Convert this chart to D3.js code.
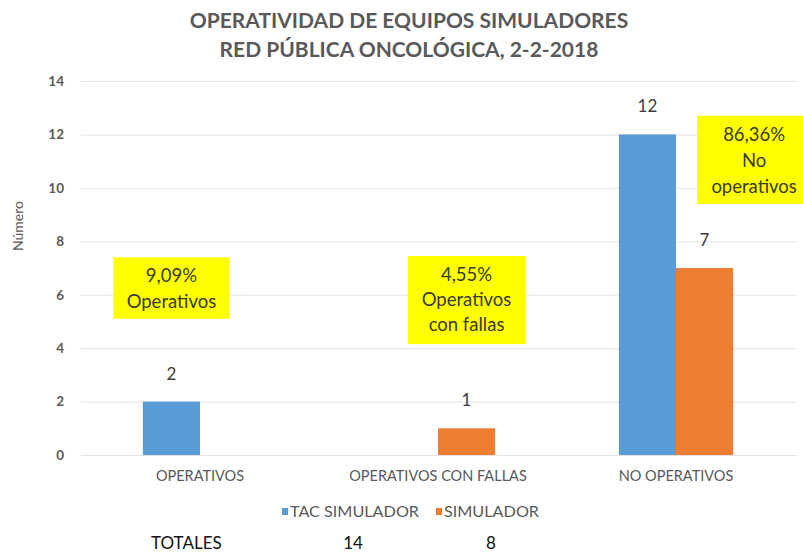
<!DOCTYPE html>
<html>
<head>
<meta charset="utf-8">
<script src="https://cdn.jsdelivr.net/npm/d3@7"></script>
<style>
  body { margin: 0; background: #fff; }
  svg { font-family: Lato, "Open Sans", sans-serif; }
</style>
</head>
<body>
<div id="chart"></div>
<script>
// data
var categories = ["OPERATIVOS", "OPERATIVOS CON FALLAS", "NO OPERATIVOS"];
var seriesNames = ["TAC SIMULADOR", "SIMULADOR"];
var tacValues = [2, 0, 12];
var simValues = [0, 1, 7];
var yTicks = [0, 2, 4, 6, 8, 10, 12, 14];
var totalsLabel = "TOTALES";
var totals = [14, 8];
var notes = [
  ["9,09%", "Operativos"],
  ["4,55%", "Operativos", "con fallas"],
  ["86,36%", "No", "operativos"]
];
var colors = ["#5B9BD5", "#ED7D31"];

var width = 803, height = 558;
var margin = { top: 81, left: 81, right: 6, bottom: 103 };

var svg = d3.select("#chart").append("svg")
    .attr("width", width)
    .attr("height", height);

var x0 = d3.scaleBand()
    .domain(categories)
    .range([margin.left, 795])
    .paddingInner(0.52)
    .paddingOuter(0.26);

var x1 = d3.scaleBand()
    .domain(seriesNames)
    .range([0, x0.bandwidth()]);

var y = d3.scaleLinear()
    .domain([0, 14])
    .range([height - margin.bottom, margin.top]);

// title
svg.append("g").selectAll("text")
  .data(["OPERATIVIDAD DE EQUIPOS SIMULADORES", "RED PÚBLICA ONCOLÓGICA, 2-2-2018"])
  .join("text")
    .attr("x", 409)
    .attr("y", function(d, i) { return 28 + i * 29; })
    .attr("text-anchor", "middle")
    .attr("font-size", 21)
    .attr("font-weight", "bold")
    .attr("fill", "#595959")
    .text(function(d) { return d; });

// grid
svg.append("g").selectAll("line")
  .data(yTicks)
  .join("line")
    .attr("x1", margin.left)
    .attr("x2", width - margin.right)
    .attr("y1", function(d) { return y(d) + 0.5; })
    .attr("y2", function(d) { return y(d) + 0.5; })
    .attr("stroke", "#e3e3e3")
    .attr("stroke-width", 1);

// y axis
var yAxis = svg.append("g")
    .attr("transform", "translate(" + (margin.left - 2) + ",0)")
    .call(d3.axisLeft(y).tickValues(yTicks).tickSize(0).tickPadding(15));
yAxis.select(".domain").remove();
yAxis.selectAll("text")
    .attr("font-family", "Lato, sans-serif")
    .attr("font-size", 13.5)
    .attr("font-weight", "bold")
    .attr("fill", "#595959");

svg.append("text")
    .attr("transform", "translate(23,226) rotate(-90)")
    .attr("text-anchor", "middle")
    .attr("font-size", 14)
    .attr("fill", "#595959")
    .text("Número");

// x axis labels
var xAxis = svg.append("g")
    .attr("transform", "translate(0," + y(0) + ")")
    .call(d3.axisBottom(x0).tickSize(0).tickPadding(16));
xAxis.select(".domain").remove();
xAxis.selectAll("text")
    .attr("font-family", "Lato, sans-serif")
    .attr("font-size", 14.5)
    .attr("fill", "#595959");

// bars
var rows = categories.map(function(c, i) {
  return [
    { cat: c, key: seriesNames[0], value: tacValues[i] },
    { cat: c, key: seriesNames[1], value: simValues[i] }
  ];
});

var groups = svg.append("g").selectAll("g")
  .data(rows)
  .join("g")
    .attr("transform", function(d) { return "translate(" + x0(d[0].cat) + ",0)"; });

groups.selectAll("rect")
  .data(function(d) { return d; })
  .join("rect")
    .attr("x", function(d) { return x1(d.key); })
    .attr("y", function(d) { return y(d.value); })
    .attr("width", x1.bandwidth())
    .attr("height", function(d) { return y(0) - y(d.value); })
    .attr("fill", function(d, i) { return colors[i]; });

groups.selectAll("text")
  .data(function(d) { return d.filter(function(e) { return e.value > 0; }); })
  .join("text")
    .attr("x", function(d) { return x1(d.key) + x1.bandwidth() / 2; })
    .attr("y", function(d) { return y(d.value) - 22; })
    .attr("text-anchor", "middle")
    .attr("font-size", 17)
    .attr("fill", "#404040")
    .text(function(d) { return d.value; });

// annotation boxes
var noteBoxes = [
  { cx: x0(categories[0]) + x1(seriesNames[0]) + x1.bandwidth() / 2, top: 7.4, bottom: 5.1, w: 116, step: 26 },
  { cx: x0(categories[1]) + x1(seriesNames[1]) + x1.bandwidth() / 2, top: 7.45, bottom: 4.15, w: 117, step: 25 },
  { cx: x0(categories[2]) + x0.bandwidth() + 21, top: 12.7, bottom: 9.4, w: 114, step: 26 }
];

var note = svg.append("g").selectAll("g")
  .data(notes)
  .join("g");

note.append("rect")
    .attr("x", function(d, i) { return noteBoxes[i].cx - noteBoxes[i].w / 2; })
    .attr("y", function(d, i) { return y(noteBoxes[i].top); })
    .attr("width", function(d, i) { return noteBoxes[i].w; })
    .attr("height", function(d, i) { return y(noteBoxes[i].bottom) - y(noteBoxes[i].top); })
    .attr("fill", "#FFFF00");

note.each(function(d, i) {
  d3.select(this).selectAll("text")
    .data(d)
    .join("text")
      .attr("x", noteBoxes[i].cx)
      .attr("y", function(t, j) { return y(noteBoxes[i].top) + 25 + j * noteBoxes[i].step; })
      .attr("text-anchor", "middle")
      .attr("font-size", 18.5)
      .attr("fill", "#3a3a2a")
      .text(function(t) { return t; });
});

// legend
var legend = svg.append("g")
    .attr("transform", "translate(282,512)");
var legendX = [0, 154];
var lg = legend.selectAll("g")
  .data(seriesNames)
  .join("g")
    .attr("transform", function(d, i) { return "translate(" + legendX[i] + ",0)"; });
lg.append("rect")
    .attr("x", 0)
    .attr("y", -4)
    .attr("width", 6)
    .attr("height", 7)
    .attr("fill", function(d, i) { return colors[i]; });
lg.append("text")
    .attr("x", 8)
    .attr("y", 4.5)
    .attr("font-size", 15)
    .attr("fill", "#595959")
    .attr("textLength", function(d, i) { return [129, 95][i]; })
    .attr("lengthAdjust", "spacingAndGlyphs")
    .text(function(d) { return d; });

// totals row
svg.append("text")
    .attr("x", 151)
    .attr("y", 549)
    .attr("font-size", 17)
    .attr("fill", "#111")
    .text(totalsLabel);
svg.append("g").selectAll("text")
  .data(totals)
  .join("text")
    .attr("x", function(d, i) { return [353, 491][i]; })
    .attr("y", 549)
    .attr("text-anchor", "middle")
    .attr("font-size", 17)
    .attr("fill", "#111")
    .text(function(d) { return d; });
</script>
</body>
</html>
